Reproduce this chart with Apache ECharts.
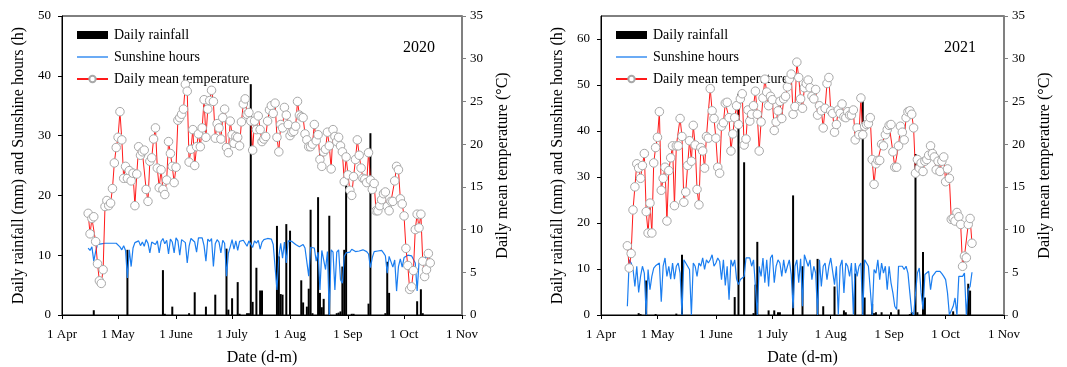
<!DOCTYPE html>
<html>
<head>
<meta charset="utf-8">
<script src="https://cdn.jsdelivr.net/npm/echarts@6/dist/echarts.min.js"></script>
<style>
  html, body { margin: 0; padding: 0; background: #fff; }
  #chart { width: 1067px; height: 367px; }
</style>
</head>
<body>
<div id="chart"></div>
<script>
// Day numbers are counted from 1 April (day 0) to 1 November (day 214).
const monthTicks = [0, 30, 61, 91, 122, 153, 183, 214];
const monthLabels = ['1 Apr', '1 May', '1 June', '1 July', '1 Aug', '1 Sep', '1 Oct', '1 Nov'];
const leftTicks2020 = [0, 10, 20, 30, 40, 50];
const leftTicks2021 = [0, 10, 20, 30, 40, 50, 60];
const firstDay = 14; // 15 April, first day of the daily records

// ---- 2020 ----
const temp2020 = [
  11.9, 9.5, 11.3, 11.5, 8.6, 6.0, 4.0, 3.7, 5.3, 12.7,
  13.4, 12.8, 13.1, 14.8, 17.8, 19.6, 20.8, 23.8, 20.5, 16.0,
  17.4, 16.0, 16.9, 15.7, 16.6, 12.8, 16.5, 19.7, 18.7, 19.1,
  19.3, 14.7, 13.3, 18.0, 18.4, 20.6, 21.9, 17.2, 14.9, 17.0,
  14.7, 14.1, 15.8, 20.3, 18.9, 17.4, 15.5, 17.3, 22.8, 23.1,
  23.5, 24.1, 27.0, 26.2, 17.9, 19.4, 21.7, 17.5, 19.7, 21.2,
  19.7, 21.9, 25.2, 20.8, 24.1, 25.1, 26.3, 25.0, 20.7, 22.4,
  21.9, 20.6, 23.1, 24.1, 19.6, 19.0, 22.7, 21.1, 20.1, 20.9,
  20.8, 19.8, 22.6, 24.7, 25.3, 23.5, 23.7, 22.7, 19.3, 22.7,
  21.7, 23.3, 21.7, 20.3, 20.6, 20.9, 22.7, 24.0, 24.5, 23.6,
  24.8, 20.8, 19.1, 22.3, 21.9, 24.3, 23.4, 22.3, 21.0, 21.4,
  21.5, 22.1, 25.0, 23.4, 23.2, 23.1, 21.2, 20.5, 19.7, 19.7,
  20.0, 22.3, 20.4, 21.1, 18.2, 17.4, 19.1, 19.4, 21.4, 19.8,
  17.1, 21.7, 20.9, 20.3, 20.8, 19.8, 19.1, 15.6, 18.5, 16.4,
  14.6, 14.0, 16.2, 18.2, 20.5, 18.7, 17.2, 16.0, 15.9, 15.5,
  19.0, 15.8, 14.7, 15.4, 12.2, 12.2, 12.8, 13.5, 14.2, 14.4,
  12.7, 12.2, 13.3, 13.3, 15.7, 17.4, 17.0, 13.6, 13.0, 11.6,
  7.8, 5.8, 3.0, 3.3, 5.2, 10.0, 11.8, 10.2, 11.8, 6.3,
  4.5, 5.3, 7.2, 6.1
];
const sun2020 = [
  11.2, 10.8, 11.4, 9.0, 10.6, 11.8,
  12.0, 11.9, 12.0, 12.0, 11.9, 12.0, 12.0, 12.0, 11.9, 12.0, 11.9, 11.4, 10.9, 11.6,
  10.8, 6.2, 10.9, 8.1, 11.2, 12.1, 11.8, 12.4, 11.6, 12.2,
  11.5, 12.6, 12.0, 10.4, 12.2, 12.5, 11.8, 12.4, 10.4, 12.3,
  12.8, 11.9, 12.5, 10.2, 12.7, 12.2, 10.4, 12.9, 12.4, 10.0,
  12.6, 12.9, 12.1, 8.7, 11.5, 12.8, 13.0, 12.2, 10.5, 12.9,
  12.6, 12.9, 11.6, 9.0, 12.7, 12.3, 12.8, 8.1, 11.9, 12.6,
  12.2, 10.4, 12.5, 12.0, 6.5, 10.3, 11.4, 12.6, 11.0, 12.4,
  10.8, 12.3, 12.1, 12.5, 12.3, 11.5, 12.4, 12.6, 11.3, 12.4,
  12.0, 12.5, 11.0, 12.2, 12.6, 12.7, 12.8, 12.5, 12.7, 11.8,
  11.6, 4.2, 9.8, 12.0, 9.5, 12.2, 8.7, 12.4, 12.7, 12.3,
  12.1, 11.8, 12.1, 11.4, 11.6, 11.8, 11.2, 11.5, 6.5, 11.3,
  11.0, 11.2, 9.0, 10.5, 4.2, 10.8, 10.7, 7.6, 10.6, 0,
  10.9, 10.5, 4.2, 10.5, 10.9, 5.9, 5.3, 9.8, 10.4, 10.6,
  10.5, 11.0, 10.8, 10.6, 10.8, 10.7, 10.4, 10.9, 11.0, 10.6,
  10.2, 7.9, 9.6, 10.6, 10.9, 10.7, 10.6, 10.8, 10.4, 9.9,
  7.0, 9.8, 9.5, 8.0, 9.2, 4.0, 8.1, 9.4, 8.0, 9.6,
  9.9, 10.0, 9.8, 9.9, 9.6, 8.7, 4.0, 8.8, 9.4, 9.2,
  9.6, 9.4, 9.7, 9.8
];
const rainDay2020 = [17, 35, 54, 55, 59, 68, 71, 77, 82, 88, 89, 91, 94, 95, 99, 100, 101, 102,
  104, 106, 107, 115, 116, 117, 118, 120, 122, 128, 129, 131, 132, 133, 134, 137, 138, 139,
  140, 143, 147, 148, 149, 150, 151, 152, 155, 156, 164, 165, 173, 174, 175, 190, 192, 193];
const rainMm2020 = [0.8, 10.9, 7.5, 0.2, 1.4, 0.3, 3.8, 1.4, 3.4, 11.1, 0.9, 2.8, 5.5, 0.2, 0.3, 0.3, 38.6, 2.2,
  7.9, 4.1, 4.1, 14.9, 9.8, 3.5, 3.4, 15.2, 14.1, 5.8, 2.1, 1.4, 4.4, 17.6, 0.3, 19.7, 3.7, 1.3,
  2.7, 16.6, 0.3, 0.4, 0.6, 8.1, 10.9, 22.2, 0.2, 0.2, 1.9, 30.4, 0.3, 8.9, 3.7, 2.3, 4.3, 0.3];

// ---- 2021 ----
const temp2021 = [
  8.1, 5.5, 7.2, 12.3, 15.0, 17.7, 17.2, 16.0, 17.5, 18.9,
  12.1, 9.6, 13.1, 9.6, 17.8, 19.6, 20.8, 23.8, 14.6, 16.0,
  17.3, 11.0, 16.9, 18.4, 19.8, 12.8, 19.8, 19.8, 23.0, 20.9,
  13.2, 14.4, 17.5, 20.4, 18.0, 22.2, 19.9, 14.7, 12.9, 19.6,
  19.2, 17.2, 20.9, 20.7, 26.5, 23.9, 23.0, 20.7, 17.3, 16.6,
  22.1, 22.5, 24.8, 24.9, 23.1, 19.2, 21.2, 23.1, 24.5, 22.3,
  25.3, 25.9, 19.9, 20.6, 24.0, 22.7, 23.5, 24.5, 26.2, 23.5,
  19.2, 22.6, 25.4, 27.6, 26.1, 24.5, 25.6, 25.2, 21.6, 22.6,
  23.9, 25.0, 23.0, 25.3, 25.6, 26.7, 27.6, 28.2, 23.5, 24.4,
  29.6, 27.8, 25.3, 24.2, 26.6, 27.1, 27.5, 26.6, 25.6, 25.3,
  26.4, 23.4, 24.5, 23.9, 21.9, 24.2, 27.1, 27.8, 23.9, 23.6,
  21.4, 22.3, 24.0, 23.6, 24.7, 23.2, 23.1, 23.8, 23.4, 23.4,
  24.0, 20.5, 21.9, 21.1, 25.4, 21.1, 22.1, 22.3, 22.4, 23.1,
  18.2, 15.3, 17.7, 18.1, 18.1, 20.0, 19.8, 21.1, 21.7, 22.2,
  22.3, 19.1, 17.3, 17.3, 19.8, 22.1, 21.4, 20.5, 23.1, 23.8,
  23.9, 23.5, 21.9, 16.6, 18.2, 17.2, 17.8, 16.8, 18.0, 18.2,
  18.7, 19.8, 18.9, 18.5, 17.0, 18.0, 16.8, 18.0, 18.5, 15.6,
  17.1, 16.0, 11.2, 11.3, 11.0, 12.0, 11.5, 10.6, 5.7, 6.9,
  6.7, 10.6, 11.3, 8.4
];
const sun2021 = [
  1.9, 12.0, 11.3, 10.0, 6.2, 10.6, 4.9, 8.4, 10.6, 9.1,
  0, 9.9, 5.5, 8.4, 10.2, 10.7, 10.6, 11.3, 2.9, 10.6,
  12.4, 8.4, 10.6, 7.8, 11.3, 7.8, 10.6, 11.3, 9.1, 0,
  12.0, 12.4, 10.6, 9.9, 0, 11.3, 10.6, 8.4, 11.3, 10.6,
  12.4, 9.9, 12.0, 11.3, 12.0, 13.1, 10.6, 11.3, 12.4, 11.7,
  7.7, 12.0, 6.4, 10.6, 3.3, 12.0, 10.6, 12.0, 7.8, 6.6,
  7.7, 7.5, 8.4, 12.4, 12.0, 12.4, 10.6, 12.0, 6.2, 0,
  10.6, 8.4, 12.4, 7.0, 12.0, 6.2, 12.4, 13.1, 7.0, 10.6,
  12.0, 11.3, 8.4, 12.0, 9.1, 10.6, 12.0, 8.8, 1.5, 10.6,
  12.0, 7.0, 12.2, 1.9, 13.1, 12.8, 10.6, 12.0, 7.7, 10.6,
  9.1, 0, 12.0, 6.2, 10.6, 11.3, 7.7, 10.6, 12.4, 12.0,
  6.6, 10.6, 0.1, 10.6, 12.0, 4.8, 11.3, 10.6, 8.4, 11.3,
  0.1, 11.3, 8.4, 10.6, 11.3, 0, 12.0, 12.4, 10.6, 5.5,
  0, 9.9, 9.1, 12.0, 7.7, 11.3, 9.1, 10.6, 5.5, 10.6,
  7.0, 4.8, 1.9, 1.2, 10.6, 10.2, 10.6, 9.9, 10.6, 9.1,
  4.8, 0.6, 0, 0, 9.1, 10.2, 4.8, 1.2, 8.8, 8.4,
  9.5, 5.5, 8.4, 8.8, 9.5, 9.9, 9.5, 9.0, 8.4, 7.7,
  4.8, 0, 0, 1.9, 3.7, 0, 8.4, 8.8, 8.4, 9.1,
  0, 5.5, 6.2, 9.3
];
const rainDay2021 = [20, 21, 24, 29, 40, 43, 71, 73, 76, 81, 82, 83, 89, 92, 94, 95, 102, 107,
  115, 118, 124, 129, 130, 135, 139, 140, 144, 145, 146, 149, 154, 158, 164, 165, 167, 168,
  171, 172, 187, 195, 196];
const rainMm2021 = [0.4, 0.2, 7.5, 0.2, 0.3, 13.1, 3.9, 48.1, 33.2, 0.4, 6.6, 15.9, 1.0, 1.0, 0.6, 0.6, 26.0, 10.6,
  12.2, 1.9, 6.2, 1.0, 0.6, 9.0, 46.6, 3.8, 2.4, 0.4, 0.6, 0.6, 0.6, 1.2, 0.2, 0.6, 35.0, 0.6,
  13.7, 3.8, 0.8, 6.8, 5.3];

const SERIF = '"Liberation Serif", "Times New Roman", serif';
const SUN_BLUE = '#1b7ef0';
const daily = (arr) => arr.map((v, i) => [firstDay + i, v]);
const pairs = (days, vals) => days.map((d, i) => [d, vals[i]]);

function xAxisFor(gridIndex) {
  return {
    gridIndex, type: 'value', min: 0, max: 214,
    axisLine: { show: true, lineStyle: { color: '#000', width: 1 } },
    axisTick: { show: true, customValues: monthTicks, length: 4, lineStyle: { color: '#000' } },
    axisLabel: {
      customValues: monthTicks,
      formatter: (v) => monthLabels[monthTicks.indexOf(v)],
      color: '#000', fontFamily: SERIF, fontSize: 13, margin: 13
    },
    splitLine: { show: false },
    name: 'Date (d-m)', nameLocation: 'middle', nameGap: 35,
    nameTextStyle: { color: '#000', fontFamily: SERIF, fontSize: 16 }
  };
}
function leftAxisFor(gridIndex, max, ticks) {
  return {
    gridIndex, type: 'value', position: 'left', min: 0, max: max,
    axisLine: { show: true, lineStyle: { color: '#000', width: 1 } },
    axisTick: { show: true, customValues: ticks, length: 4, lineStyle: { color: '#000' } },
    axisLabel: { customValues: ticks, color: '#000', fontFamily: SERIF, fontSize: 13, margin: 11 },
    splitLine: { show: false },
    name: 'Daily rainfall (mm) and Sunshine hours (h)', nameLocation: 'middle', nameGap: 35,
    nameTextStyle: { color: '#000', fontFamily: SERIF, fontSize: 16 }
  };
}
function rightAxisFor(gridIndex) {
  return {
    gridIndex, type: 'value', position: 'right', min: 0, max: 35, interval: 5,
    axisLine: { show: true, lineStyle: { color: '#808080', width: 2 } },
    axisTick: { show: true, length: 4, lineStyle: { color: '#808080' } },
    axisLabel: { color: '#000', fontFamily: SERIF, fontSize: 13, margin: 8 },
    splitLine: { show: false },
    name: 'Daily mean temperature (\u00B0C)', nameLocation: 'middle', nameGap: 33, nameRotate: 90,
    nameTextStyle: { color: '#000', fontFamily: SERIF, fontSize: 16 }
  };
}
function seriesFor(xi, yl, yr, rainDays, rainVals, sun, temp) {
  return [
    {
      name: 'Daily rainfall', type: 'bar', xAxisIndex: xi, yAxisIndex: yl,
      data: pairs(rainDays, rainVals), barWidth: 2,
      itemStyle: { color: '#000' }, z: 2
    },
    {
      name: 'Sunshine hours', type: 'line', xAxisIndex: xi, yAxisIndex: yl,
      data: daily(sun), symbol: 'none',
      lineStyle: { color: SUN_BLUE, width: 1.2 }, itemStyle: { color: SUN_BLUE }, z: 3
    },
    {
      name: 'Daily mean temperature', type: 'line', xAxisIndex: xi, yAxisIndex: yr,
      data: daily(temp), symbol: 'circle', symbolSize: 8.5, showSymbol: true,
      lineStyle: { color: '#ff1a1a', width: 1 },
      itemStyle: { color: '#fff', borderColor: '#a8a8a8', borderWidth: 1 }, z: 4
    }
  ];
}
function legendAt(left) {
  return {
    left: left, top: 28, orient: 'vertical', padding: 0,
    itemWidth: 31, itemHeight: 8, itemGap: 8,
    data: [
      { name: 'Daily rainfall', icon: 'rect' },
      { name: 'Sunshine hours', icon: 'path://M0,0H31V1.3H0Z' },
      'Daily mean temperature'
    ],
    textStyle: { color: '#000', fontFamily: SERIF, fontSize: 14, padding: [0, 0, 0, 1] }
  };
}

const chart = echarts.init(document.getElementById('chart'), null, { renderer: 'canvas' });
chart.setOption({
  animation: false,
  backgroundColor: '#fff',
  grid: [
    { left: 62, top: 16, width: 400, height: 299, show: true, borderColor: '#000', borderWidth: 1, backgroundColor: 'transparent', outerBoundsMode: 'none' },
    { left: 601, top: 16, width: 403, height: 299, show: true, borderColor: '#000', borderWidth: 1, backgroundColor: 'transparent', outerBoundsMode: 'none' }
  ],
  legend: [legendAt(76), legendAt(615)],
  xAxis: [xAxisFor(0), xAxisFor(1)],
  yAxis: [
    leftAxisFor(0, 50, leftTicks2020), rightAxisFor(0),
    leftAxisFor(1, 65, leftTicks2021), rightAxisFor(1)
  ],
  graphic: [
    { type: 'text', left: 403, top: 40, style: { text: '2020', fill: '#000', font: '16px ' + SERIF } },
    { type: 'text', left: 944, top: 40, style: { text: '2021', fill: '#000', font: '16px ' + SERIF } }
  ],
  series: [
    ...seriesFor(0, 0, 1, rainDay2020, rainMm2020, sun2020, temp2020),
    ...seriesFor(1, 2, 3, rainDay2021, rainMm2021, sun2021, temp2021)
  ]
});
</script>
</body>
</html>
